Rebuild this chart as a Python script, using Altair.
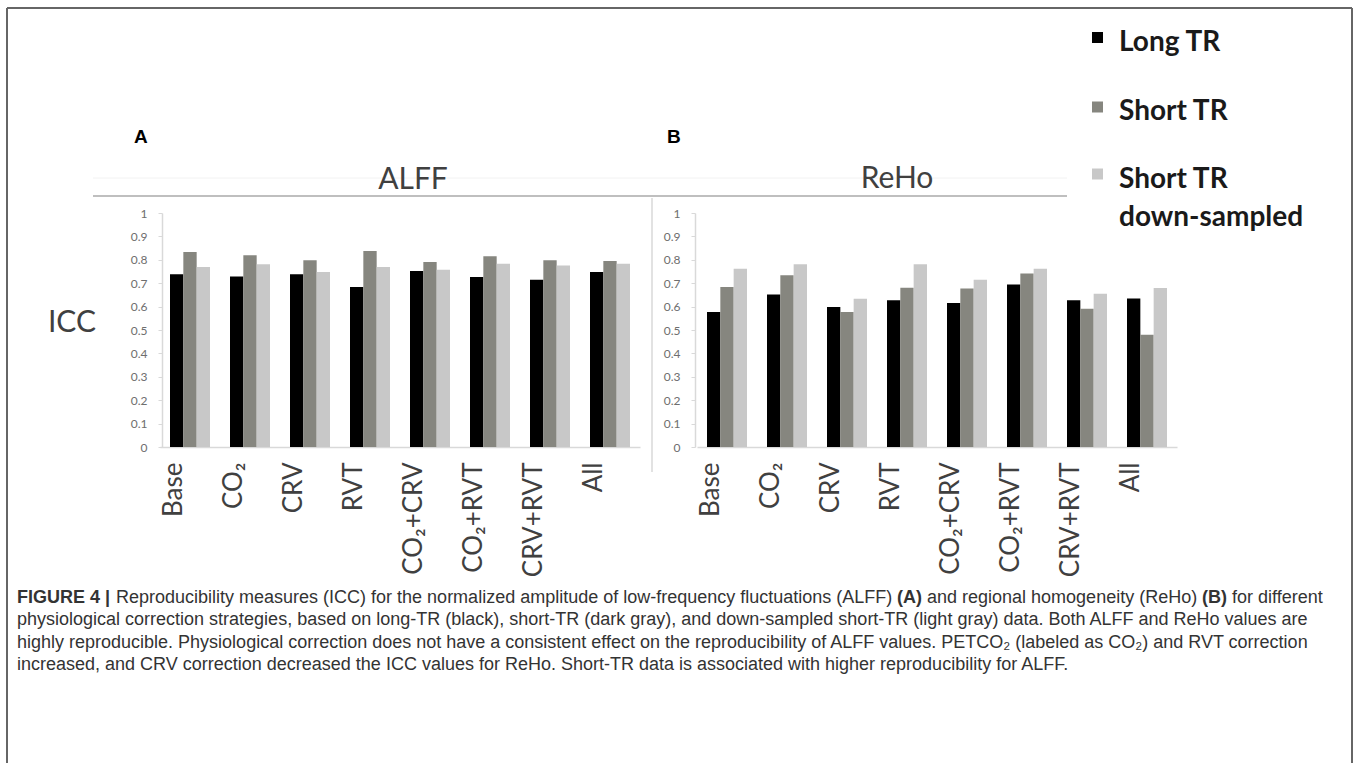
import altair as alt
import pandas as pd

W, H = 1357, 763
FONT = "Lato"
CAPTION_FONT = "Liberation Sans"

# Correction strategies (x categories) and the three acquisition series
strategies = ["Base", "CO₂", "CRV", "RVT", "CO₂+CRV", "CO₂+RVT", "CRV+RVT", "All"]
series = ["Long TR", "Short TR", "Short TR down-sampled"]
series_colors = ["#000000", "#86867f", "#c8c8c8"]

# ICC values, panel A (ALFF)
alff_long = [0.738, 0.729, 0.738, 0.684, 0.752, 0.726, 0.715, 0.748]
alff_short = [0.833, 0.819, 0.798, 0.838, 0.791, 0.815, 0.798, 0.795]
alff_down = [0.769, 0.781, 0.748, 0.769, 0.758, 0.783, 0.776, 0.783]

# ICC values, panel B (ReHo)
reho_long = [0.577, 0.652, 0.598, 0.627, 0.615, 0.694, 0.627, 0.635]
reho_short = [0.684, 0.734, 0.577, 0.681, 0.677, 0.741, 0.591, 0.480]
reho_down = [0.762, 0.781, 0.634, 0.781, 0.715, 0.762, 0.655, 0.680]

icc_ticks = [0, 0.1, 0.2, 0.3, 0.4, 0.5, 0.6, 0.7, 0.8, 0.9, 1]


def to_frame(long_vals, short_vals, down_vals):
    rows = []
    for i, s in enumerate(strategies):
        for name, vals in zip(series, (long_vals, short_vals, down_vals)):
            rows.append({"strategy": s, "series": name, "icc": vals[i]})
    return pd.DataFrame(rows)


alff = to_frame(alff_long, alff_short, alff_down)
reho = to_frame(reho_long, reho_short, reho_down)

BASE_Y = 447   # pixel row of ICC = 0
TOP_Y = 213    # pixel row of ICC = 1


def panel(df, x_range, axis_x):
    return alt.Chart(df).mark_bar().encode(
        x=alt.X(
            "strategy:N",
            sort=strategies,
            scale=alt.Scale(domain=strategies, range=x_range,
                            paddingInner=1 / 3, paddingOuter=1 / 6),
            axis=alt.Axis(
                orient="bottom", offset=BASE_Y - H, title=None,
                labelAngle=-90, labelAlign="right", labelBaseline="middle",
                labelFont=FONT, labelFontSize=26, labelColor="#404040",
                labelPadding=15, labelOffset=-16, ticks=False,
                domainColor="#d9d9d9", domainWidth=1.5, grid=False,
                labelLimit=400,
            ),
        ),
        xOffset=alt.XOffset("series:N", sort=series,
                            scale=alt.Scale(domain=series, paddingInner=0, paddingOuter=0)),
        y=alt.Y(
            "icc:Q",
            scale=alt.Scale(domain=[0, 1], range=[BASE_Y, TOP_Y], nice=False, zero=True),
            axis=alt.Axis(
                orient="left", offset=-axis_x, title=None, values=icc_ticks,
                format="~g", labelFont=FONT, labelFontSize=12, labelColor="#6e6e6e",
                tickSize=4, tickColor="#d9d9d9", labelPadding=11,
                domainColor="#d9d9d9", domainWidth=1.5, grid=False,
            ),
        ),
        color=alt.Color("series:N", sort=series,
                        scale=alt.Scale(domain=series, range=series_colors), legend=None),
    )


def text(t, x, y, size, weight="normal", color="#404040", align="left",
         baseline="alphabetic", font=FONT):
    return alt.Chart().mark_text(
        text=t, align=align, baseline=baseline, fontSize=size,
        fontWeight=weight, color=color, font=font,
    ).encode(x=alt.value(x), y=alt.value(y))


def rule(x1, y1, x2, y2, color, width):
    return alt.Chart().mark_rule(color=color, strokeWidth=width).encode(
        x=alt.value(x1), x2=alt.value(x2), y=alt.value(y1), y2=alt.value(y2))


def square(x, y, color):
    return alt.Chart().mark_square(size=121, color=color, opacity=1).encode(
        x=alt.value(x), y=alt.value(y))


left = panel(alff, [160, 640], 162)
right = panel(reho, [697, 1177], 695)

bars = alt.layer(left, right).resolve_scale(
    x="independent", y="independent", xOffset="independent"
).resolve_axis(x="independent", y="independent")

decor = [
    # figure frame
    rule(7, 8, 1352, 8, "#666666", 2),
    rule(7, 8, 7, H, "#666666", 2),
    rule(1352, 8, 1352, H, "#666666", 2),
    # panel title band and separator
    rule(93, 178, 1067, 178, "#f2f2f2", 1),
    rule(93, 196, 1067, 196, "#bfbfbf", 2),
    rule(652, 198, 652, 472, "#d9d9d9", 1.5),
    # panel letters and titles
    text("A", 134, 143, 19, "bold", "#000000", font=CAPTION_FONT),
    text("B", 667, 143, 19, "bold", "#000000", font=CAPTION_FONT),
    text("ALFF", 413, 189, 30, align="center"),
    text("ReHo", 897, 188, 30, align="center"),
    text("ICC", 72, 323, 30, align="center", baseline="middle"),
    # legend
    square(1097.5, 37.5, series_colors[0]),
    square(1097.5, 107, series_colors[1]),
    square(1097.5, 174, series_colors[2]),
    text("Long TR", 1119, 51, 28, "bold", "#1a1a1a"),
    text("Short TR", 1119, 120, 28, "bold", "#1a1a1a"),
    text("Short TR", 1119, 188, 28, "bold", "#1a1a1a"),
    text("down-sampled", 1119, 226, 28, "bold", "#1a1a1a"),
]

# caption, written segment by segment so that the bold parts stand out
cap_color = "#333333"
cap_size = 18
cap_rows = [598, 620, 643, 665]


def cap(t, x, row, weight="normal"):
    return text(t, x, cap_rows[row], cap_size, weight, cap_color,
                baseline="middle", font=CAPTION_FONT)


caption = [
    cap("FIGURE 4 |", 17, 0, "bold"),
    cap("Reproducibility measures (ICC) for the normalized amplitude of low-frequency fluctuations (ALFF)",
        116, 0),
    cap("(A)", 897, 0, "bold"),
    cap("and regional homogeneity (ReHo)", 927, 0),
    cap("(B)", 1202, 0, "bold"),
    cap("for different", 1232, 0),
    cap("physiological correction strategies, based on long-TR (black), short-TR (dark gray), and "
        "down-sampled short-TR (light gray) data. Both ALFF and ReHo values are", 17, 1),
    cap("highly reproducible. Physiological correction does not have a consistent effect on the "
        "reproducibility of ALFF values. PETCO₂ (labeled as CO₂) and RVT correction", 17, 2),
    cap("increased, and CRV correction decreased the ICC values for ReHo. Short-TR data is "
        "associated with higher reproducibility for ALFF.", 17, 3),
]

chart = alt.layer(bars, *decor, *caption).properties(
    width=W, height=H, padding=0, autosize=alt.AutoSizeParams(type="none"),
    background="white",
).configure_view(stroke=None)

chart.save("out.html", embed_options={"renderer": "svg", "actions": False})
